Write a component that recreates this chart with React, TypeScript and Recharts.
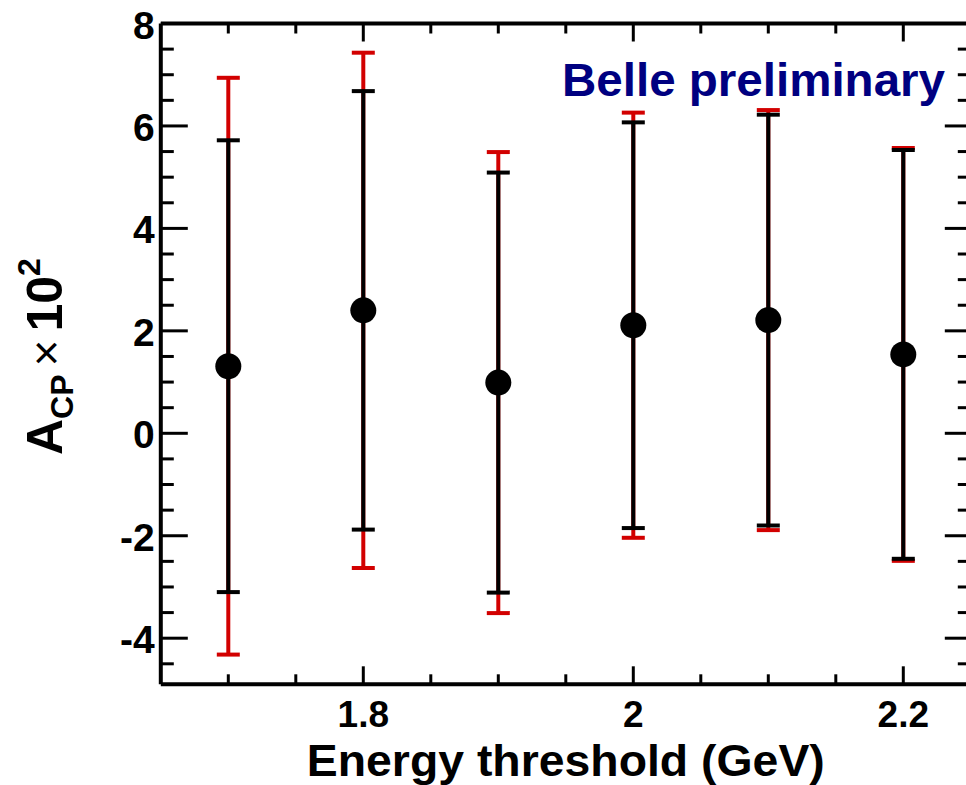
import { ScatterChart, Scatter, XAxis, YAxis, ErrorBar } from "recharts";

const thresholds = [1.7, 1.8, 1.9, 2.0, 2.1, 2.2];
const acp = [1.31, 2.4, 0.99, 2.11, 2.21, 1.54];
const statErr = [4.41, 4.28, 4.1, 3.96, 4.01, 3.99];
const totalErr = [5.63, 5.03, 4.5, 4.15, 4.1, 4.03];

const xTicks = [1.7, 1.75, 1.8, 1.85, 1.9, 1.95, 2.0, 2.05, 2.1, 2.15, 2.2];
const xLabels = [1.8, 2.0, 2.2];
const yTicks = [
  -4.5, -4, -3.5, -3, -2.5, -2, -1.5, -1, -0.5, 0, 0.5, 1, 1.5, 2, 2.5, 3, 3.5,
  4, 4.5, 5, 5.5, 6, 6.5, 7, 7.5, 8,
];
const yLabels = [-4, -2, 0, 2, 4, 6, 8];

const data = thresholds.map((x, i) => ({
  x,
  y: acp[i],
  stat: statErr[i],
  total: totalErr[i],
}));

const FONT = "'Liberation Sans', Arial, Helvetica, sans-serif";
const RED = "#d20000";

const isIn = (list: number[], v: number) => list.some((t) => Math.abs(t - v) < 1e-6);

function BottomTick({ x, y, payload }: any) {
  const major = isIn(xLabels, payload.value);
  return (
    <g>
      <line x1={x} x2={x} y1={y} y2={y - (major ? 18 : 10)} stroke="#000" strokeWidth={3} />
      {major && (
        <text x={x} y={y + 43} textAnchor="middle" fontFamily={FONT} fontWeight="bold" fontSize={37} fill="#000">
          {String(payload.value)}
        </text>
      )}
    </g>
  );
}

function TopTick({ x, y, payload }: any) {
  const major = isIn(xLabels, payload.value);
  return <line x1={x} x2={x} y1={y} y2={y + (major ? 18 : 10)} stroke="#000" strokeWidth={3} />;
}

function LeftTick({ x, y, payload }: any) {
  const major = isIn(yLabels, payload.value);
  return (
    <g>
      <line x1={x} x2={x + (major ? 27 : 13)} y1={y} y2={y} stroke="#000" strokeWidth={3} />
      {major && (
        <text x={x - 6} y={y + 15} textAnchor="end" fontFamily={FONT} fontWeight="bold" fontSize={39} fill="#000">
          {String(payload.value)}
        </text>
      )}
    </g>
  );
}

function RightTick({ x, y, payload }: any) {
  const major = isIn(yLabels, payload.value);
  return <line x1={x} x2={x - (major ? 26 : 13)} y1={y} y2={y} stroke="#000" strokeWidth={3} />;
}

const Dot = (props: any) => <circle cx={props.cx} cy={props.cy} r={13} fill="#000" />;

export default function App() {
  const axisLine = { stroke: "#000", strokeWidth: 4 };
  return (
    <div
      style={{
        position: "absolute",
        left: 0,
        top: 0,
        width: 966,
        height: 785,
        overflow: "hidden",
        background: "#fff",
      }}
    >
      <ScatterChart width={980} height={785} margin={{ top: 0, right: 0, bottom: 0, left: 0 }}>
        <XAxis
          xAxisId="b"
          type="number"
          dataKey="x"
          domain={[1.65, 2.25]}
          allowDataOverflow
          ticks={xTicks}
          interval={0}
          tick={<BottomTick />}
          tickLine={false}
          tickSize={0}
          tickMargin={0}
          axisLine={axisLine}
          height={100.7}
        />
        <XAxis
          xAxisId="t"
          orientation="top"
          type="number"
          dataKey="x"
          domain={[1.65, 2.25]}
          allowDataOverflow
          ticks={xTicks}
          interval={0}
          tick={<TopTick />}
          tickLine={false}
          tickSize={0}
          tickMargin={0}
          axisLine={axisLine}
          height={23.5}
        />
        <YAxis
          yAxisId="l"
          type="number"
          dataKey="y"
          domain={[-4.9, 8]}
          allowDataOverflow
          ticks={yTicks}
          interval={0}
          tick={<LeftTick />}
          tickLine={false}
          tickSize={0}
          tickMargin={0}
          axisLine={axisLine}
          width={160.8}
        />
        <YAxis
          yAxisId="r"
          orientation="right"
          type="number"
          dataKey="y"
          domain={[-4.9, 8]}
          allowDataOverflow
          ticks={yTicks}
          interval={0}
          tick={<RightTick />}
          tickLine={false}
          tickSize={0}
          tickMargin={0}
          axisLine={axisLine}
          width={9.2}
        />
        <Scatter xAxisId="b" yAxisId="l" data={data} dataKey="y" shape={Dot} isAnimationActive={false}>
          <ErrorBar dataKey="total" direction="y" width={11.5} stroke={RED} strokeWidth={4} isAnimationActive={false} />
          <ErrorBar dataKey="stat" direction="y" width={11.5} stroke="#000" strokeWidth={4} isAnimationActive={false} />
        </Scatter>
        <text
          x={562}
          y={96}
          fontFamily={FONT}
          fontWeight="bold"
          fontSize={46}
          fill="#000080"
          textLength={383}
          lengthAdjust="spacingAndGlyphs"
        >
          Belle preliminary
        </text>
        <text
          x={565.8}
          y={775.5}
          textAnchor="middle"
          fontFamily={FONT}
          fontWeight="bold"
          fontSize={45}
          fill="#000"
          textLength={518}
          lengthAdjust="spacingAndGlyphs"
        >
          Energy threshold (GeV)
        </text>
        <text
          x={62}
          y={455}
          transform="rotate(-90, 62, 455)"
          fontFamily={FONT}
          fontWeight="bold"
          fontSize={50}
          fill="#000"
        >
          <tspan>A</tspan>
          <tspan fontSize={32} dy={11}>
            CP
          </tspan>
          <tspan fontWeight="normal" fontSize={46} dy={-11} dx={8}>
            ×
          </tspan>
          <tspan dx={8}>10</tspan>
          <tspan fontSize={32} dy={-22}>
            2
          </tspan>
        </text>
      </ScatterChart>
    </div>
  );
}
